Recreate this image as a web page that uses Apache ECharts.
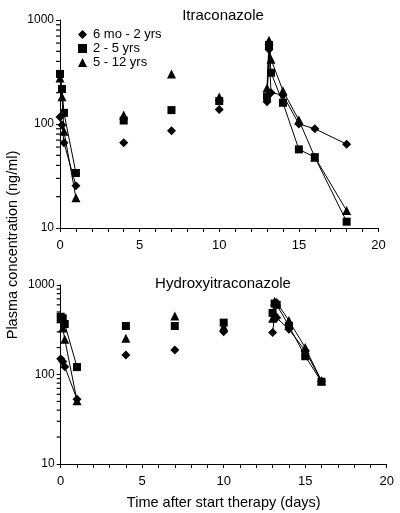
<!DOCTYPE html>
<html><head><meta charset="utf-8">
<script src="https://cdn.jsdelivr.net/npm/echarts@6/dist/echarts.min.js"></script>
<style>html,body{margin:0;padding:0;background:#fff}#c{width:400px;height:513px}</style>
</head><body><div id="c"></div>
<script>
const groups = ['6 mo - 2 yrs', '2 - 5 yrs', '5 - 12 yrs'];
const symbols = ['diamond', 'rect', 'triangle'];
const xTicks = [0, 5, 10, 15, 20];
const yTicks = [10, 100, 1000];
const minorTickValues = [20,30,40,50,60,70,80,90,200,300,400,500,600,700,800,900];

const earlyTime = [0, 0.125, 0.25, 1];
const troughTime = [4, 7, 10];
const itraLateTime = [13, 13.125, 13.25, 14, 15, 16, 18];
const hydLateTime = [13, 13.125, 13.25, 14, 15, 16];

// Itraconazole
const itraEarly = [[117, 98, 66, 25.5], [303, 217, 128, 33.8], [277, 183, 85, 19.5]];
const itraTrough = [[66, 86, 138], [108, 136, 166], [122, 303, 182]];
const itraLate = [[164, 520, 200, 190, 100, 90, 64], [183, 575, 311, 160, 57, 48, 11.5], [222, 640, 419, 209, 109, 48, 14.7]];
// Hydroxyitraconazole
const hydEarly = [[150, 140, 122, 53], [442, 424, 366, 121], [420, 330, 247, 51]];
const hydTrough = [[165, 188, 301], [348, 348, 380], [254, 451, 342]];
const hydLate = [[295, 460, 430, 320, 185, 84], [487, 620, 600, 350, 160, 83], [424, 660, 640, 400, 200, 85]];

const FONT = 'Liberation Sans, Arial, sans-serif';
const zip = (t, v) => t.map((x, i) => [x, v[i]]);
const symSize = [9, 8, 9];

function seriesFor(gi, early, trough, lateT, late) {
  const out = [];
  for (let k = 0; k < 3; k++) {
    const common = {name: groups[k], xAxisIndex: gi, yAxisIndex: gi, symbol: symbols[k], symbolSize: symSize[k],
      itemStyle: {color: '#000', opacity: 1}, lineStyle: {color: '#000', width: 1}, z: 3 + k, animation: false};
    out.push(Object.assign({type: 'line', data: zip(earlyTime, early[k])}, common));
    out.push(Object.assign({type: 'scatter', data: zip(troughTime, trough[k])}, common));
    out.push(Object.assign({type: 'line', data: zip(lateT, late[k])}, common));
  }
  // minor log ticks on the y axis (2..9 within each decade)
  out.push({type: 'scatter', xAxisIndex: gi, yAxisIndex: gi, silent: true, animation: false, clip: false,
    data: minorTickValues.map(v => [0, v]), symbol: 'rect', symbolSize: [4, 1.2], symbolOffset: [-2, 0],
    itemStyle: {color: '#000', opacity: 1}, z: 10});
  return out;
}

function xAxis(gi) {
  return {type: 'value', gridIndex: gi, min: 0, max: 20, interval: 1,
    axisLine: {show: true, lineStyle: {color: '#000', width: 1}},
    axisTick: {show: true, inside: false, length: 4, lineStyle: {color: '#000'}},
    splitLine: {show: false},
    axisLabel: {color: '#000', fontFamily: FONT, fontSize: 13, margin: 11,
      formatter: v => xTicks.includes(v) ? String(v) : ''}};
}
function yAxis(gi) {
  return {type: 'log', logBase: 10, gridIndex: gi, min: 10, max: 1000,
    axisLine: {show: true, lineStyle: {color: '#000', width: 1}},
    axisTick: {show: true, length: 4, lineStyle: {color: '#000'}},
    splitLine: {show: false},
    axisLabel: {color: '#000', fontFamily: FONT, fontSize: 12, margin: 6,
      formatter: v => yTicks.includes(Math.round(v)) ? String(Math.round(v)) : ''}};
}

const chart = echarts.init(document.getElementById('c'), null, {renderer: 'canvas'});
chart.setOption({
  backgroundColor: '#fff',
  animation: false,
  title: [
    {text: 'Itraconazole', left: 218, top: 3, textAlign: 'center', textStyle: {fontFamily: FONT, fontSize: 15, fontWeight: 'normal', color: '#000'}},
    {text: 'Hydroxyitraconazole', left: 218, top: 271, textAlign: 'center', textStyle: {fontFamily: FONT, fontSize: 15, fontWeight: 'normal', color: '#000'}}
  ],
  legend: {left: 73, top: 23, orient: 'vertical', itemWidth: 9, itemHeight: 9, itemGap: 1,
    data: groups.map((g, i) => ({name: g, icon: symbols[i]})),
    itemStyle: {color: '#000'},
    textStyle: {fontFamily: FONT, fontSize: 13, color: '#000', padding: [0, 0, 0, 1]}},
  grid: [
    {left: 60, top: 20, width: 318.5, height: 208},
    {left: 60.7, top: 285, width: 326, height: 179}
  ],
  xAxis: [xAxis(0), Object.assign(xAxis(1), {name: 'Time after start therapy (days)', nameLocation: 'middle', nameGap: 31,
    nameTextStyle: {fontFamily: FONT, fontSize: 14.5, color: '#000'}})],
  yAxis: [yAxis(0), yAxis(1)],
  graphic: [{type: 'text', x: 13, y: 245, rotation: Math.PI / 2,
    style: {text: 'Plasma concentration (ng/ml)', font: '14.5px ' + FONT, fill: '#000', align: 'center', verticalAlign: 'middle'}}],
  series: [].concat(
    seriesFor(0, itraEarly, itraTrough, itraLateTime, itraLate),
    seriesFor(1, hydEarly, hydTrough, hydLateTime, hydLate)
  )
});
</script>
</body></html>
